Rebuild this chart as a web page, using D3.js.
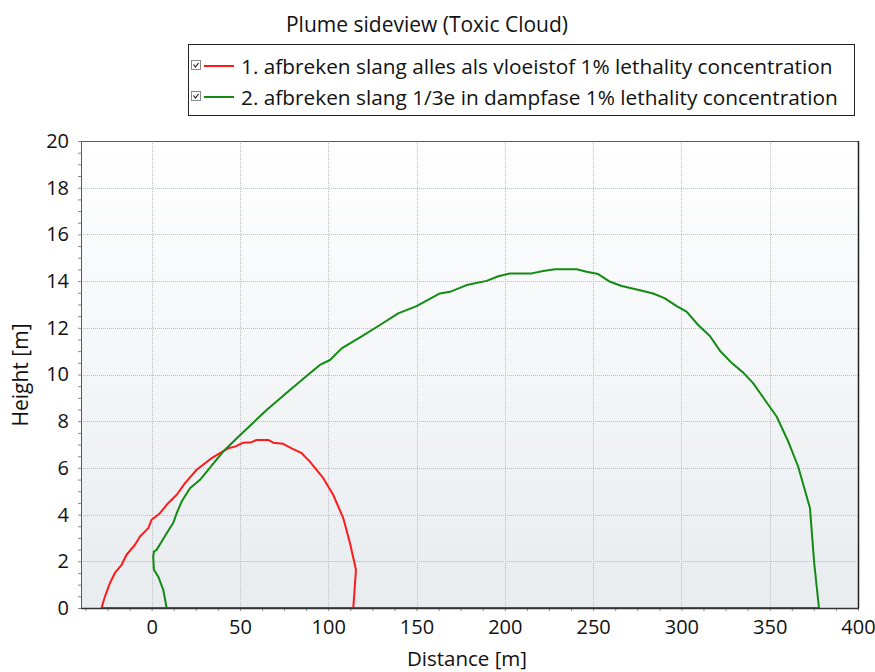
<!DOCTYPE html>
<html>
<head>
<meta charset="utf-8">
<script src="https://cdn.jsdelivr.net/npm/d3@7"></script>
<style>
  html, body { margin: 0; padding: 0; background: #ffffff; }
  svg { display: block; font-family: "Open Sans", "Noto Sans", sans-serif; }
</style>
</head>
<body>
<svg id="chart" width="875" height="672"></svg>
<script>
// Plume outline (distance [m], height [m]) for each release scenario
const seriesNames = [
  "1. afbreken slang alles als vloeistof 1% lethality concentration",
  "2. afbreken slang 1/3e in dampfase 1% lethality concentration"
];
const seriesColors = ["#ff1a1a", "#138a13"];

const liquidX = [-28.4, -26.4, -23.6, -20.8, -17, -14.2, -9.5, -6.6, -1.9, 0, 4.7, 8.5, 14.2, 18.9, 25.5, 30.2, 34, 38.7, 43.4, 47.2, 51.9, 56.6, 59.5, 66, 68.9, 74.5, 79.3, 85, 89.6, 97.2, 102.8, 108.5, 112.3, 115.7, 114.2, -28.4];
const liquidY = [0, 0.5, 1.07, 1.5, 1.85, 2.28, 2.7, 3.06, 3.42, 3.78, 4.06, 4.42, 4.85, 5.35, 5.92, 6.2, 6.42, 6.63, 6.84, 6.91, 7.08, 7.1, 7.2, 7.2, 7.08, 7.03, 6.84, 6.63, 6.27, 5.56, 4.85, 3.85, 2.78, 1.64, 0, 0];

const vapourX = [8.5, 6.6, 3.7, 1.3, 0.9, 1.3, 2.8, 5.7, 8.5, 12.2, 14.2, 17, 21.7, 27.4, 32, 40.5, 50, 65.1, 78.3, 89.6, 95.3, 101, 107.6, 118, 129.3, 139.6, 150, 163.2, 168.9, 178.4, 189.7, 196.3, 202.9, 215.2, 221.7, 228.4, 240.7, 246.3, 252.9, 259.6, 266.2, 276.5, 284, 290.7, 297.3, 302.9, 309.5, 316.1, 321.8, 328.4, 335, 340.7, 347.3, 353.9, 360.5, 366.1, 372.8, 375.2, 377.9, 8.5];
const vapourY = [0, 0.78, 1.35, 1.64, 2.2, 2.42, 2.49, 2.85, 3.2, 3.64, 4.06, 4.56, 5.13, 5.49, 5.92, 6.7, 7.4, 8.48, 9.34, 10.05, 10.41, 10.62, 11.12, 11.59, 12.12, 12.62, 12.93, 13.47, 13.54, 13.83, 14.01, 14.21, 14.33, 14.33, 14.43, 14.51, 14.51, 14.4, 14.3, 13.97, 13.79, 13.61, 13.47, 13.26, 12.93, 12.69, 12.12, 11.65, 11.02, 10.5, 10.08, 9.62, 8.91, 8.2, 7.13, 6.06, 4.28, 1.92, 0, 0];

const xTicks = [0, 50, 100, 150, 200, 250, 300, 350, 400];
const yTicks = [0, 2, 4, 6, 8, 10, 12, 14, 16, 18, 20];
const xDomain = [-40, 400];
const yDomain = [0, 20];

const titleText = "Plume sideview (Toxic Cloud)";
const xLabel = "Distance [m]";
const yLabel = "Height [m]";

const svg = d3.select("#chart");
const plot = { left: 81, top: 141, right: 858, bottom: 608 };

const x = d3.scaleLinear().domain(xDomain).range([plot.left, plot.right]);
const y = d3.scaleLinear().domain(yDomain).range([plot.bottom, plot.top]);

// Plot background: vertical gradient, white at top to pale grey at bottom
const defs = svg.append("defs");
const grad = defs.append("linearGradient").attr("id", "bg")
  .attr("x1", 0).attr("y1", 0).attr("x2", 0).attr("y2", 1);
grad.append("stop").attr("offset", "0%").attr("stop-color", "#ffffff");
grad.append("stop").attr("offset", "100%").attr("stop-color", "#e8ecef");

svg.append("rect")
  .attr("x", plot.left).attr("y", plot.top)
  .attr("width", plot.right - plot.left).attr("height", plot.bottom - plot.top)
  .attr("fill", "url(#bg)");

// Dotted grid
const grid = svg.append("g").attr("stroke", "#bdbdbd").attr("stroke-width", 1)
  .attr("stroke-dasharray", "1,1");
grid.selectAll("line.v").data(xTicks.filter(t => t > xDomain[0] && t < xDomain[1]))
  .join("line").attr("class", "v")
  .attr("x1", d => Math.round(x(d)) + 0.5).attr("x2", d => Math.round(x(d)) + 0.5)
  .attr("y1", plot.top).attr("y2", plot.bottom);
grid.selectAll("line.h").data(yTicks.filter(t => t > yDomain[0] && t < yDomain[1]))
  .join("line").attr("class", "h")
  .attr("y1", d => Math.round(y(d)) + 0.5).attr("y2", d => Math.round(y(d)) + 0.5)
  .attr("x1", plot.left).attr("x2", plot.right);

// Axes with minor ticks
const xMinor = d3.range(-37.5, 400.01, 12.5);
const yMinor = d3.range(0, 20.01, 0.5);
const tickFont = 20;

const xAxisG = svg.append("g").attr("transform", `translate(0,${plot.bottom})`)
  .call(d3.axisBottom(x).tickValues(xMinor).tickSize(3).tickFormat(""));
xAxisG.select(".domain").remove();
xAxisG.selectAll("line").attr("stroke", "#8a8a8a");

const xLab = svg.append("g").attr("transform", `translate(0,${plot.bottom})`)
  .call(d3.axisBottom(x).tickValues(xTicks).tickSize(0).tickPadding(12));
xLab.select(".domain").remove();
xLab.selectAll("text").attr("font-size", tickFont).attr("fill", "#111")
  .attr("font-family", "'Open Sans', sans-serif");

const yAxisG = svg.append("g").attr("transform", `translate(${plot.left},0)`)
  .call(d3.axisLeft(y).tickValues(yMinor).tickSize(3).tickFormat(""));
yAxisG.select(".domain").remove();
yAxisG.selectAll("line").attr("stroke", "#8a8a8a");

const yLab = svg.append("g").attr("transform", `translate(${plot.left},0)`)
  .call(d3.axisLeft(y).tickValues(yTicks).tickSize(0).tickPadding(12));
yLab.select(".domain").remove();
yLab.selectAll("text").attr("font-size", tickFont).attr("fill", "#111")
  .attr("font-family", "'Open Sans', sans-serif");

// Plume outlines
const line = d3.line().x(d => x(d[0])).y(d => y(d[1]));
const plumes = [
  d3.zip(liquidX, liquidY),
  d3.zip(vapourX, vapourY)
];
svg.append("g").selectAll("path").data(plumes).join("path")
  .attr("d", line)
  .attr("fill", "none")
  .attr("stroke", (d, i) => seriesColors[i])
  .attr("stroke-width", 2)
  .attr("stroke-linejoin", "round");

// Frame around the plot area
svg.append("rect")
  .attr("x", plot.left + 0.5).attr("y", plot.top + 0.5)
  .attr("width", plot.right - plot.left).attr("height", plot.bottom - plot.top)
  .attr("fill", "none").attr("stroke", "#5a5a5a").attr("stroke-width", 1);
svg.append("line")
  .attr("x1", plot.left).attr("x2", plot.right + 1)
  .attr("y1", plot.bottom + 0.5).attr("y2", plot.bottom + 0.5)
  .attr("stroke", "#333").attr("stroke-width", 1.5);
svg.append("line")
  .attr("x1", plot.right + 0.5).attr("x2", plot.right + 0.5)
  .attr("y1", plot.top).attr("y2", plot.bottom)
  .attr("stroke", "#222").attr("stroke-width", 1.5);

// Title
svg.append("text")
  .attr("x", 427).attr("y", 32)
  .attr("text-anchor", "middle")
  .attr("font-size", 21).attr("fill", "#111")
  .text(titleText);

// Axis titles
svg.append("text")
  .attr("x", 467).attr("y", 666)
  .attr("text-anchor", "middle")
  .attr("font-size", 20.5).attr("fill", "#111")
  .text(xLabel);
svg.append("text")
  .attr("transform", "translate(28,375) rotate(-90)")
  .attr("text-anchor", "middle")
  .attr("font-size", 21).attr("fill", "#111")
  .text(yLabel);

// Legend
const legend = svg.append("g");
legend.append("rect")
  .attr("x", 188.5).attr("y", 44.5).attr("width", 666).attr("height", 71)
  .attr("fill", "#fff").attr("stroke", "#222").attr("stroke-width", 1);
const rowY = [66, 97];
seriesNames.forEach((name, i) => {
  const g = legend.append("g").attr("transform", `translate(0,${rowY[i]})`);
  g.append("rect").attr("x", 191.5).attr("y", -5.5).attr("width", 9).attr("height", 9)
    .attr("fill", "#fff").attr("stroke", "#8a8a8a");
  g.append("path").attr("d", "M193.5,-1.5 L195.5,1 L198.5,-3")
    .attr("fill", "none").attr("stroke", "#222").attr("stroke-width", 1.2);
  g.append("line").attr("x1", 204).attr("x2", 234).attr("y1", 0).attr("y2", 0)
    .attr("stroke", seriesColors[i]).attr("stroke-width", 2);
  g.append("text").attr("x", 241).attr("y", 7.5)
    .attr("font-size", 20.8).attr("fill", "#111")
    .text(name);
});
</script>
</body>
</html>
